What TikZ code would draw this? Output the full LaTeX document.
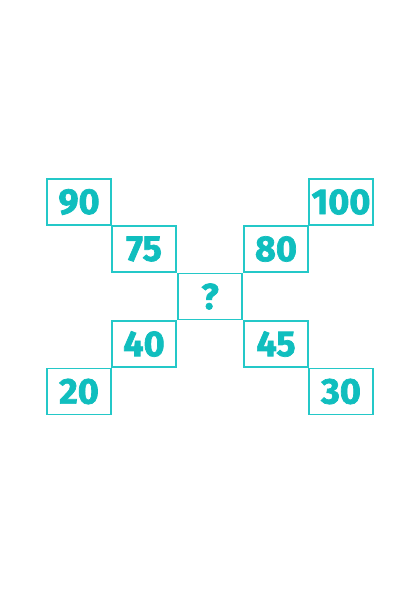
\documentclass[tikz,border=0pt]{standalone}
\usepackage{fontspec}
\setmainfont{Fira Sans}
\newfontfamily\numfont[BoldFeatures={FakeBold=2}]{Fira Sans}
\usepackage{tikz}
\definecolor{tealbox}{RGB}{36,200,200}
\definecolor{tealnum}{RGB}{16,190,190}
\tikzset{numbox/.style={draw=tealbox, line width=1.4pt, minimum width=64pt, minimum height=46pt,
    inner sep=0pt, text=tealnum, font=\numfont\fontsize{36}{40}\selectfont\bfseries}}

\begin{document}
\begin{tikzpicture}[x=1pt,y=-1pt]
    \useasboundingbox (0,0) rectangle (420,594);
    \node[numbox] (n90) at (79,202) {90};
    \node[numbox] (n75) at (144,249) {75};
    \node[numbox] (q) at (210,296.5) {?};
    \node[numbox] (n80) at (276,249) {80};
    \node[numbox] (n100) at (341,202) {100};
    \node[numbox] (n40) at (144,344) {40};
    \node[numbox] (n45) at (276,344) {45};
    \node[numbox] (n20) at (79,391.5) {20};
    \node[numbox] (n30) at (341,391.5) {30};
\end{tikzpicture}
\end{document}
